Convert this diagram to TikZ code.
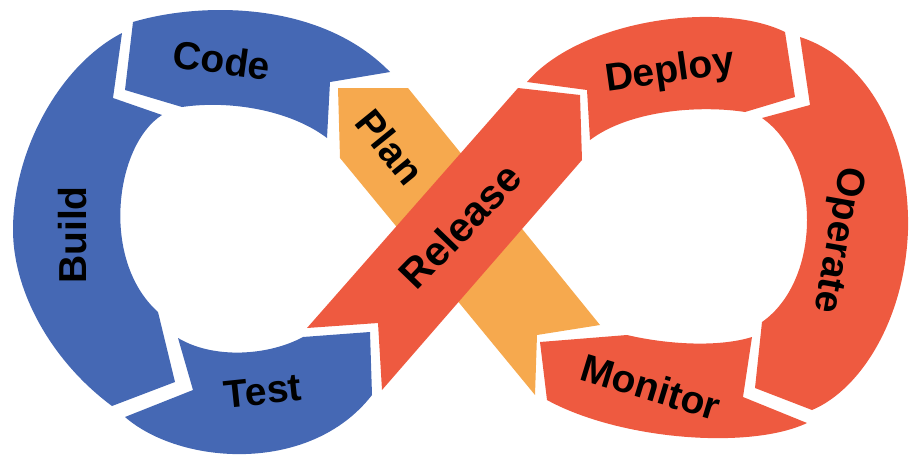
\documentclass[tikz,border=0pt]{standalone}
\usepackage{fontspec}
\setmainfont{Liberation Sans}

\definecolor{loopblue}{HTML}{4568B4}
\definecolor{loopred}{HTML}{EE5A40}
\definecolor{planorange}{HTML}{F6A94E}

\begin{document}
\begin{tikzpicture}[x=1pt, y=-1pt,
  stage/.style={font=\bfseries\fontsize{39}{39}\selectfont, text=black, inner sep=0pt}]

\useasboundingbox (0,0) rectangle (921,469);

% left loop
\fill[loopblue] (125,90) -- (133,22) .. controls (200,2) and (320,0) .. (390,72)
  -- (330,82) -- (327,138) .. controls (290,110) and (230,100) .. (182,107) -- cycle;
\fill[loopblue] (122,33) -- (113,98) -- (162,115) .. controls (115,145) and (100,260) .. (158,312)
  -- (175,382) -- (112,406) .. controls (50,360) and (13,290) .. (13,230)
  .. controls (13,150) and (60,65) .. (122,33) -- cycle;
\fill[loopblue] (178,338) -- (193,390) -- (125,417) .. controls (180,465) and (310,475) .. (372,395)
  -- (370,332) -- (303,337) .. controls (270,355) and (215,360) .. (178,338) -- cycle;

% the two crossing bands
\fill[planorange] (338,88) -- (408,88) -- (600,325) -- (537,335) -- (535,395) -- (340,158) -- cycle;
\fill[loopred] (518,88) -- (580,95) -- (582,160) -- (382,390) -- (378,323) -- (307,328) -- cycle;

% right loop
\fill[loopred] (527,82) .. controls (580,20) and (720,0) .. (785,32) -- (795,97) -- (745,112)
  .. controls (700,105) and (630,110) .. (590,140) -- (587,90) -- cycle;
\fill[loopred] (800,37) .. controls (870,60) and (910,140) .. (908,230)
  .. controls (905,320) and (860,390) .. (812,410) -- (755,388) -- (762,322)
  .. controls (822,280) and (822,160) .. (762,118) -- (810,105) -- cycle;
\fill[loopred] (752,337) -- (743,397) -- (807,423) .. controls (750,450) and (620,440) .. (547,400)
  -- (540,342) -- (627,335) .. controls (670,345) and (720,347) .. (752,337) -- cycle;

% labels
\node[stage, rotate=-8] (code) at (222,60) {Code};
\node[stage, rotate=90] (build) at (73,235) {Build};
\node[stage, rotate=6] (test) at (263,391) {Test};
\node[stage, rotate=-51] (plan) at (390,147) {Plan};
\node[stage, rotate=46, font=\bfseries\fontsize{41}{41}\selectfont] (release) at (460,226) {Release};
\node[stage, rotate=8] (deploy) at (670,72) {Deploy};
\node[stage, rotate=-100] (operate) at (837,240) {Operate};
\node[stage, rotate=-17] (monitor) at (651,387) {Monitor};

\end{tikzpicture}
\end{document}
